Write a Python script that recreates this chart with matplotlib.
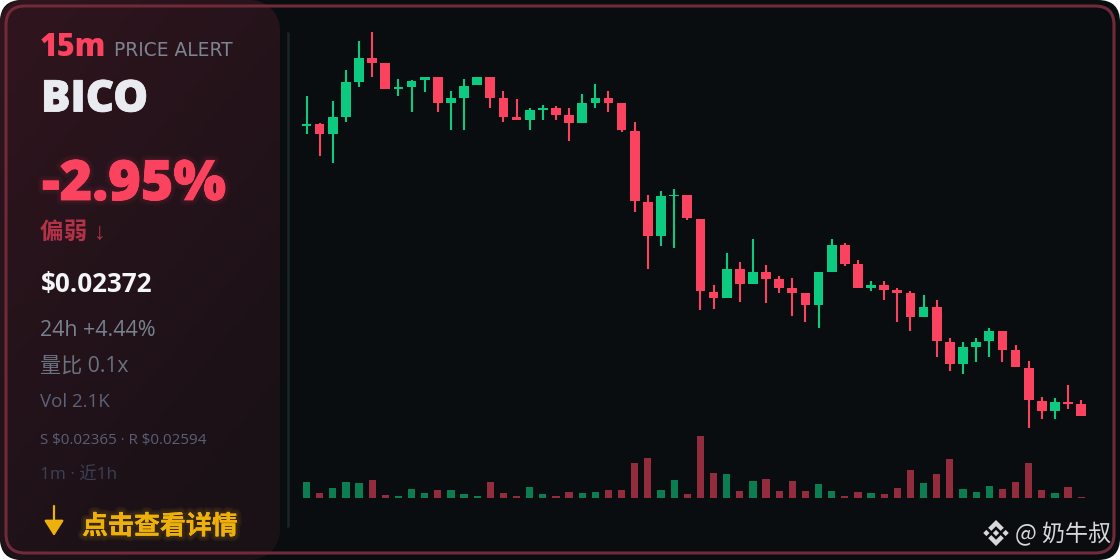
#!/usr/bin/env python3
"""Price alert card: 15m candles + volume, with the summary panel on the left."""
import matplotlib
matplotlib.use("Agg")
import matplotlib.pyplot as plt  # noqa: E402
import matplotlib.patheffects as pe  # noqa: E402
import numpy as np  # noqa: E402
from matplotlib.patches import FancyBboxPatch, Polygon  # noqa: E402

# candle values, in price ticks above the session low
opens = [302.3, 304, 294.3, 311.3, 346, 370, 364.7, 339, 341, 348, 351, 325.3, 330.3, 342.7, 351,
         330, 311, 308, 318.3, 319.7, 313, 304.7, 325.3, 330, 324.7, 297.3, 226.3, 192.3, 231.7, 233.3,
         209, 136.3, 130, 159, 143.7, 155.7, 148.7, 140, 134.7, 123, 155.7, 183, 164, 140, 143.3,
         138.3, 134.7, 111, 120.7, 86.3, 64.3, 81.3, 86.7, 96.7, 77.7, 60.3, 27.3, 17.3, 26, 24]
highs = [332, 304.7, 326.7, 357.7, 387.3, 395.7, 364.7, 349, 347.7, 351, 351, 337, 349, 351, 351,
         337, 328.7, 319.7, 323.3, 321.7, 319.7, 333.7, 344, 337, 324.7, 305.7, 233.3, 236.7, 238.7, 233.3,
         209.3, 143.3, 174.7, 165.7, 188.7, 162.7, 152, 150.3, 135, 155.7, 188.7, 184.7, 167.7, 147, 147,
         140, 136.7, 133, 128, 90, 86.3, 90, 100.3, 96.7, 82.7, 67.3, 30.7, 29.7, 43.3, 27.7]
lows = [294.3, 271.7, 264.7, 306.3, 341, 351.3, 339, 332.3, 316.3, 335.7, 316.3, 297.7, 297.7, 342.7, 320,
        306.3, 308, 297.7, 308, 308, 287.3, 304.7, 320, 316.3, 295.7, 216.3, 159, 181.7, 180, 207.7,
        117.7, 119.3, 130, 126.3, 143.7, 124.7, 135, 112.3, 105.7, 100.3, 155.7, 162.3, 140.3, 136.7, 128.3,
        105.7, 97, 111, 71, 57.3, 53.7, 65.7, 71, 65.7, 60.7, 0, 8.7, 8.7, 19, 12.3]
closes = [304.3, 294.3, 311, 345.7, 370, 365, 339, 340.7, 347.3, 351, 325.3, 330, 342.3, 351, 330.3,
          311.3, 308, 318, 320, 313, 304.7, 324.7, 330, 325.3, 297.7, 227, 192.3, 231.7, 233.3, 209.7,
          137, 130, 159, 143.7, 155.7, 149, 140.3, 135, 123, 155.7, 183, 164.3, 140.3, 143.3, 138.3,
          135, 111, 121, 86.7, 64.3, 81, 86.3, 96.7, 78, 60.7, 28, 17.3, 26, 24, 12.3]
volumes = [16.3, 4.7, 9.7, 15.7, 15, 17.7, 2.7, 1.7, 8.7, 5, 7.7, 8.3, 4, 1.7, 15.7,
           5, 2.3, 10.7, 3.7, 2.3, 6, 4.7, 6, 8, 7.7, 34.7, 39.7, 8, 18.3, 3.7,
           62, 24.7, 23.7, 6.7, 16.7, 19.3, 6.7, 17.3, 7, 14.3, 7.3, 1.7, 6, 4.7, 3.7,
           9.7, 27.7, 14.7, 24, 38.7, 9, 6.3, 12.3, 9, 15.7, 34.7, 8, 5, 10.7, 1.3]

W, H = 1120, 560
CARD = "#0a0d10"
BORDER = "#702a3a"
RED = "#fb4360"
GREEN = "#0ccb80"
VOL_RED = "#932c3d"
VOL_GREEN = "#0b7d50"
YELLOW = "#eeb10b"
WM = "#d8d8d8"
LATIN = ["Open Sans", "Noto Sans CJK SC", "DejaVu Sans"]
CJK = ["Noto Sans CJK SC", "DejaVu Sans"]

plt.rcParams["font.family"] = LATIN

fig = plt.figure(figsize=(W / 100, H / 100), dpi=100, facecolor="white")

# background layer in image pixels
bg = fig.add_axes([0, 0, 1, 1], zorder=0)
bg.set_xlim(0, W)
bg.set_ylim(H, 0)
bg.axis("off")


def rounded(x0, y0, x1, y1, r, **kw):
    patch = FancyBboxPatch((x0 + r, y0 + r), x1 - x0 - 2 * r, y1 - y0 - 2 * r,
                           boxstyle=f"round,pad={r},rounding_size={r}", **kw)
    bg.add_patch(patch)
    return patch


def arc(cx, cy, r, a0, a1):
    t = np.radians(np.linspace(a0, a1, 24))
    return np.column_stack([cx + r * np.cos(t), cy + r * np.sin(t)])


rounded(0, 0, W, H, 22, fc=CARD, ec="none", zorder=1)

# left panel: dark red fading towards the bottom right
outline = np.vstack([arc(22, 22, 22, 180, 270), arc(250, 30, 30, 270, 360),
                     arc(250, H - 30, 30, 0, 90), arc(22, H - 22, 22, 90, 180)])
panel = Polygon(outline, closed=True, fc="none", ec="none", zorder=2)
bg.add_patch(panel)
gx, gy = np.meshgrid(np.linspace(0, 1, 80), np.linspace(0, 1, 160))
mix = np.clip((gx * 0.45 + gy * 0.75), 0, 1)[..., None]
rgb = (1 - mix) * np.array([48, 21, 30]) + mix * np.array([26, 17, 23])
grad = bg.imshow(rgb / 255, extent=(0, 280, H, 0), aspect="auto", zorder=2.1)
grad.set_clip_path(panel)
bg.set_xlim(0, W)
bg.set_ylim(H, 0)

rounded(6, 6, 1114, 553, 19, fc="none", ec=BORDER, lw=2.2, zorder=3)
bg.plot([288, 288], [32, 527], color="#1c2529", lw=1.8, zorder=3, solid_capstyle="butt")

# candles
n = len(closes)
x = np.arange(n)
step = 13.13
px_left, px_right = 296, 1092


def sub_axes(top, bottom):
    ax = fig.add_axes([px_left / W, 1 - bottom / H, (px_right - px_left) / W, (bottom - top) / H], zorder=2)
    ax.set_xlim((px_left - 306.5) / step, (px_right - 306.5) / step)
    ax.axis("off")
    return ax


ax = sub_axes(32, 428)
ax.set_ylim(0, 396)
colors = [GREEN if c >= o else RED for o, c in zip(opens, closes)]
ax.vlines(x, lows, highs, colors=colors, lw=1.5, zorder=2)
bottoms = np.minimum(opens, closes)
heights = np.maximum(np.abs(np.array(closes) - np.array(opens)), 1.5)
ax.bar(x, heights, bottom=bottoms, width=0.74, color=colors, zorder=3)

vol_ax = sub_axes(436, 498)
vol_ax.set_ylim(0, 62)
vol_colors = [VOL_GREEN if c >= o else VOL_RED for o, c in zip(opens, closes)]
vol_ax.bar(x, volumes, width=0.55, color=vol_colors)


# text layer
def glow(color, widths=(7, 4), alpha=0.05):
    return [pe.withStroke(linewidth=w, foreground=color, alpha=alpha) for w in widths]


def heavier(color, lw=0.6):
    return [pe.withStroke(linewidth=lw, foreground=color)]


def label(px, py, s, **kw):
    return bg.text(px, py, s, va="baseline", ha="left", zorder=5, parse_math=False, **kw)


label(40, 56, "15m", color=RED, fontsize=22, fontweight=800)
label(113.5, 55.5, "PRICE ALERT", color="#7c8591", fontsize=13.4, family="DejaVu Sans")
t = label(41, 111.5, "BICO", color="#e9ebf0", fontsize=31.5, fontweight=800)
t.set_path_effects(heavier("#e9ebf0"))
t = label(42, 200, "-2.95%", color=RED, fontsize=40, fontweight=800)
t.set_path_effects(glow(RED) + heavier(RED))
label(40, 239, "偏弱 ↓", color="#b23248", fontsize=17, fontweight="bold",
      family=["Liberation Sans", "Noto Sans CJK SC"])
label(41, 292, "$0.02372", color="#f4f5f7", fontsize=18.7, fontweight=700)
label(40, 336, "24h +4.44%", color="#78818e", fontsize=15.4)
label(40, 372, "量比 0.1x", color="#6b7280", fontsize=15.2)
label(40, 407, "Vol 2.1K", color="#5c6277", fontsize=13.5)
label(40, 444, "S $0.02365 · R $0.02594", color="#5a5f75", fontsize=10.9)
label(40, 480, "1m · 近1h", color="#3b4058", fontsize=12.4)

arrow = bg.annotate("", xy=(54, 536), xytext=(54, 506), zorder=5,
                    arrowprops=dict(arrowstyle="-|>,head_width=0.6,head_length=0.95", mutation_scale=10,
                                    color=YELLOW, lw=1.6, shrinkA=0, shrinkB=0))
t = label(82, 534, "点击查看详情", color=YELLOW, fontsize=18.7, fontweight="bold", family=CJK)
t.set_path_effects(glow(YELLOW, alpha=0.07) + [pe.Normal()])

# watermark: diamond logo and handle
logo_x, logo_y, logo_r = 996, 533, 13
logo_parts = [
    [(0, -1), (.6, -.4), (.36, -.16), (0, -.52), (-.36, -.16), (-.6, -.4)],
    [(0, 1), (.6, .4), (.36, .16), (0, .52), (-.36, .16), (-.6, .4)],
    [(0, -.24), (.24, 0), (0, .24), (-.24, 0)],
    [(-.74, -.24), (-.5, 0), (-.74, .24), (-.98, 0)],
    [(.74, -.24), (.98, 0), (.74, .24), (.5, 0)],
]
for part in logo_parts:
    bg.add_patch(Polygon([(logo_x + px * logo_r, logo_y + py * logo_r) for px, py in part],
                         fc=WM, ec="none", zorder=5))
label(1015, 541, "@ 奶牛叔", color=WM, fontsize=16.6, family=CJK)

fig.savefig("out.png", dpi=100, facecolor="white")
